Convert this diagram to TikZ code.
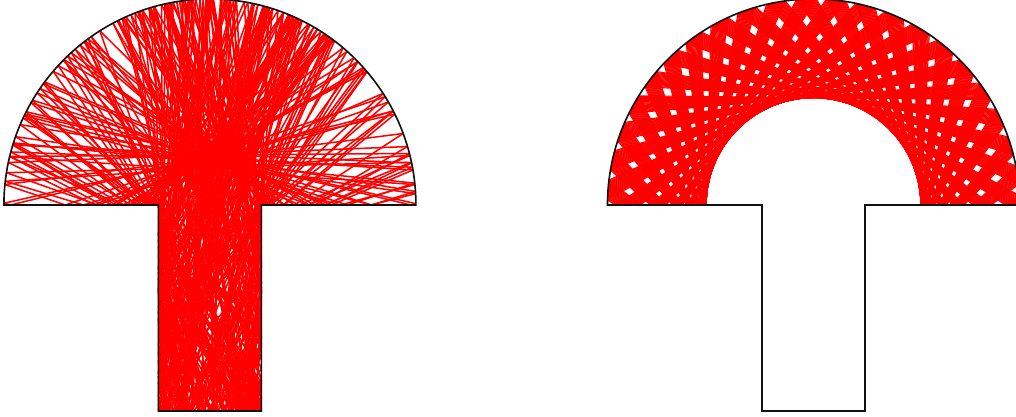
\documentclass[tikz,border=0pt]{standalone}
\usepackage{amsmath,amssymb}
\usepackage{xcolor}
\usepackage{tikz}
\usetikzlibrary{calc}
\definecolor{orbitred}{HTML}{FF0000}
\definecolor{wallink}{HTML}{111111}
\tikzset{
  wall/.style={draw=wallink,line width=0.45pt},
  orbit/.style={draw=orbitred,line width=0.3pt},
  chaos/.style={orbit,line width=0.42pt}
}
% mushroom: cap radius 1, stem half width and length
\def\stemw{0.25}
\def\stemh{1}
% keep the smallest positive hit time
\def\pickt#1#2{\ifdim#1pt>0.001pt \ifdim#1pt<\tbest pt \xdef\tbest{#1}\xdef\hitkind{#2}\fi\fi}
\newcommand\bounce{%
  \xdef\tbest{100}\xdef\hitkind{0}%
  % cap arc
  \pgfmathsetmacro\capb{(\posx)*(\dirx)+(\posy)*(\diry)}%
  \pgfmathsetmacro\capc{(\posx)*(\posx)+(\posy)*(\posy)-1}%
  \pgfmathsetmacro\capdisc{(\capb)*(\capb)-(\capc)}%
  \ifdim\capdisc pt>0pt
    \pgfmathsetmacro\tcand{sqrt(\capdisc)-(\capb)}%
    \pgfmathsetmacro\hity{\posy+(\tcand)*(\diry)}%
    \ifdim\hity pt>-0.0001pt \pickt\tcand1\fi
  \fi
  % cap floor and stem bottom
  \ifdim\diry pt<-0.001pt
    \ifdim\posy pt>0.0001pt
      \pgfmathsetmacro\tcand{0-(\posy)/(\diry)}%
      \pgfmathsetmacro\hitx{abs(\posx+(\tcand)*(\dirx))}%
      \ifdim\hitx pt>\stemw pt \pickt\tcand2\fi
    \fi
    \pgfmathsetmacro\tcand{(0-\stemh-(\posy))/(\diry)}%
    \pgfmathsetmacro\hitx{abs(\posx+(\tcand)*(\dirx))}%
    \ifdim\hitx pt<\stemw pt \pickt\tcand2\fi
  \fi
  % stem sides
  \pgfmathsetmacro\adirx{abs(\dirx)}%
  \ifdim\adirx pt>0.001pt
    \ifdim\dirx pt>0pt \def\sidex{\stemw}\else\def\sidex{-\stemw}\fi
    \pgfmathsetmacro\tcand{(\sidex-(\posx))/(\dirx)}%
    \pgfmathsetmacro\hity{\posy+(\tcand)*(\diry)}%
    \ifdim\hity pt<0.0001pt \ifdim\hity pt>-\stemh pt \pickt\tcand3\fi\fi
  \fi
  \ifnum\hitkind=0
    \pgfmathsetmacro\ndx{0-(\dirx)}\pgfmathsetmacro\ndy{0-(\diry)}%
  \else
    \pgfmathsetmacro\newx{\posx+(\tbest)*(\dirx)}%
    \pgfmathsetmacro\newy{\posy+(\tbest)*(\diry)}%
    \draw[chaos] (\posx,\posy) -- (\newx,\newy);
    \xdef\posx{\newx}\xdef\posy{\newy}%
    \ifcase\hitkind\or
      \pgfmathsetmacro\dotn{(\dirx)*(\posx)+(\diry)*(\posy)}%
      \pgfmathsetmacro\ndx{\dirx-2*(\dotn)*(\posx)}%
      \pgfmathsetmacro\ndy{\diry-2*(\dotn)*(\posy)}%
    \or
      \pgfmathsetmacro\ndx{\dirx}\pgfmathsetmacro\ndy{0-(\diry)}%
    \or
      \pgfmathsetmacro\ndx{0-(\dirx)}\pgfmathsetmacro\ndy{\diry}%
    \fi
  \fi
  \pgfmathsetmacro\nlen{veclen(\ndx,\ndy)}%
  \pgfmathsetmacro\ndx{\ndx/\nlen}\pgfmathsetmacro\ndy{\ndy/\nlen}%
  \xdef\dirx{\ndx}\xdef\diry{\ndy}%
}

\begin{document}
\begin{tikzpicture}[scale=2]
  \useasboundingbox (-1.019,-1.029) rectangle (3.913,0.995);
  % chaotic orbit
  \xdef\posx{0.1}\xdef\posy{-0.6}
  \xdef\dirx{0.22495}\xdef\diry{0.97437}
  \foreach \n in {1,...,500}{\bounce}
  \draw[wall] (-1,0) arc[start angle=180,end angle=0,radius=1] -- (\stemw,0)
    -- (\stemw,-\stemh) -- (-\stemw,-\stemh) -- (-\stemw,0) -- cycle;
  % regular orbit in the cap
  \begin{scope}[shift={(2.930,0)}]
    \begin{scope}
      \clip (1,0) arc[start angle=0,end angle=180,radius=1] -- cycle;
      \foreach \k in {0,...,399}{
        \pgfmathsetmacro\tang{mod(14*\k,43)*360/43+\k*0.0072}
        \draw[orbit] (\tang-58.609:1) -- (\tang+58.609:1);
        \draw[orbit] (-\tang-58.609:1) -- (-\tang+58.609:1);
      }
    \end{scope}
    \draw[wall] (-1,0) arc[start angle=180,end angle=0,radius=1] -- (\stemw,0)
      -- (\stemw,-\stemh) -- (-\stemw,-\stemh) -- (-\stemw,0) -- cycle;
  \end{scope}
\end{tikzpicture}
\end{document}
